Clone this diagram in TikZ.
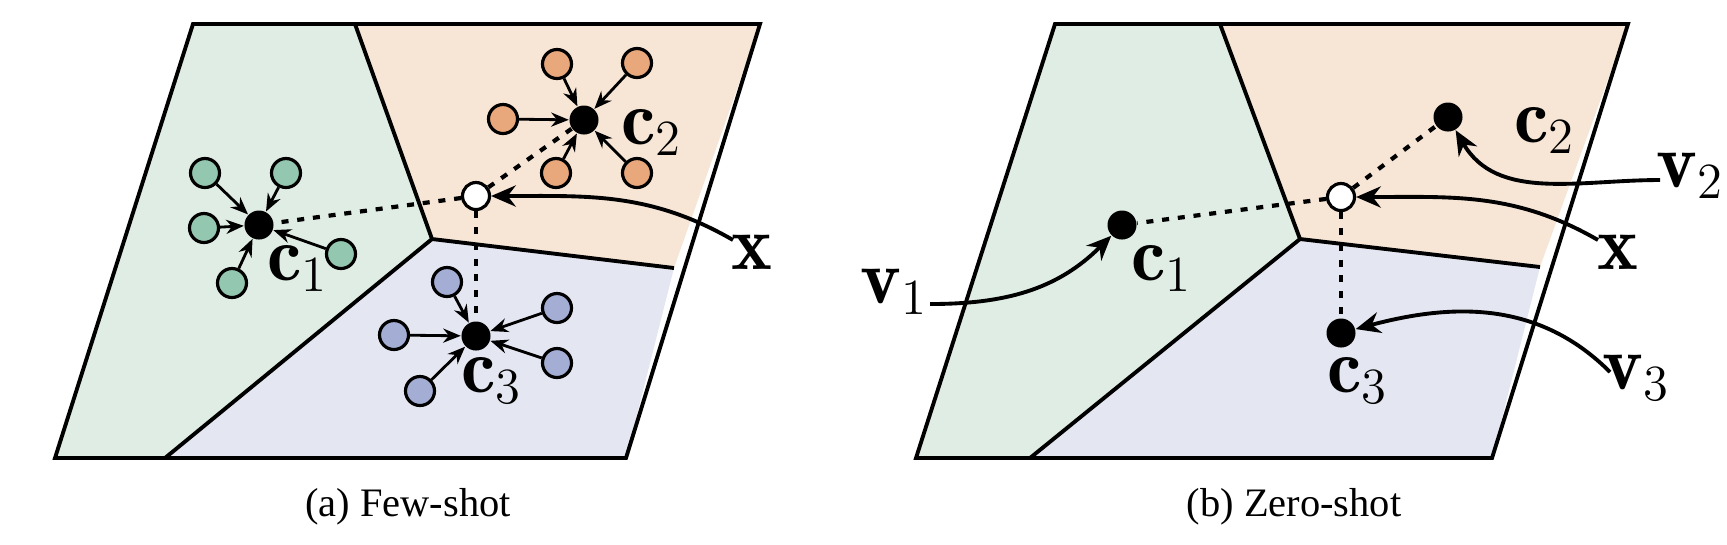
\documentclass[tikz,border=0pt]{standalone}
\usepackage{fontspec}
\newfontfamily\capfont{Liberation Serif}
\usetikzlibrary{arrows.meta}
\definecolor{gfill}{HTML}{E0EDE4}
\definecolor{ofill}{HTML}{F7E6D6}
\definecolor{bfill}{HTML}{E4E7F1}
\definecolor{gsat}{HTML}{93C7AF}
\definecolor{osat}{HTML}{E9A77C}
\definecolor{bsat}{HTML}{A4AED4}
\tikzset{
  region/.style={draw=black,line width=1.1pt,line join=miter},
  sat/.style={circle,draw=black,line width=0.9pt,minimum size=0.29cm,inner sep=0pt},
  ctr/.style={circle,fill=black,minimum size=0.29cm,inner sep=0pt},
  qry/.style={circle,draw=black,fill=white,line width=0.9pt,minimum size=0.27cm,inner sep=0pt},
  sarr/.style={-{Stealth[length=5pt,width=4pt]},line width=0.8pt},
  carr/.style={-{Stealth[length=7pt,width=6pt]},line width=1.1pt},
  dots/.style={line width=1.2pt,dash pattern=on 2pt off 2.5pt},
  lab/.style={font=\fontsize{22}{24}\selectfont,inner sep=1pt},
  captxt/.style={font=\capfont\fontsize{11.5}{13}\selectfont}
}
\begin{document}
\begin{tikzpicture}[x=0.01cm,y=-0.01cm]
\useasboundingbox (0,0) rectangle (1727,544);
% ---------- panel (a)
\fill[gfill] (193,24) -- (355,24) -- (432,239) -- (165,458) -- (55,458) -- cycle;
\fill[ofill] (355,24) -- (760,24) -- (674,268) -- (432,239) -- cycle;
\fill[bfill] (432,239) -- (674,268) -- (626,458) -- (165,458) -- cycle;
\draw[region] (193,24) -- (760,24) -- (626,458) -- (55,458) -- cycle;
\draw[region] (355,24) -- (432,239) -- (674,268);
\draw[region] (432,239) -- (165,458);
\node[ctr] (a1) at (259,225) {};
\node[ctr] (a2) at (584,120) {};
\node[ctr] (a3) at (476,336) {};
\node[qry] (ax) at (476,196) {};
\draw[dots] (ax) -- (a1); \draw[dots] (ax) -- (a2); \draw[dots] (ax) -- (a3);
\foreach \n/\p in {g1/{205,173},g2/{286,173},g3/{204,228},g4/{341,254},g5/{232,283}}
  {\node[sat,fill=gsat] (\n) at (\p) {}; \draw[sarr] (\n) -- (a1);}
\foreach \n/\p in {o1/{557,64},o2/{637,63},o3/{503,119},o4/{556,173},o5/{637,173}}
  {\node[sat,fill=osat] (\n) at (\p) {}; \draw[sarr] (\n) -- (a2);}
\foreach \n/\p in {b1/{447,282},b2/{557,308},b3/{394,335},b4/{557,363},b5/{420,391}}
  {\node[sat,fill=bsat] (\n) at (\p) {}; \draw[sarr] (\n) -- (a3);}
\node[lab] (la1) at (298,268) {$\mathbf{c}_1$};
\node[lab] (la2) at (652,132) {$\mathbf{c}_2$};
\node[lab] (la3) at (492,380) {$\mathbf{c}_3$};
\node[lab] (lax) at (752,252) {$\mathbf{x}$};
\coordinate (sax) at (733,240);
\draw[carr] (sax) to[out=150,in=0] (ax);
\node[captxt] (capa) at (408,507) {(a) Few-shot};
% ---------- panel (b)
\fill[gfill] (1055,24) -- (1220,24) -- (1300,239) -- (1030,458) -- (916,458) -- cycle;
\fill[ofill] (1220,24) -- (1628,24) -- (1540,267) -- (1300,239) -- cycle;
\fill[bfill] (1300,239) -- (1540,267) -- (1492,458) -- (1030,458) -- cycle;
\draw[region] (1055,24) -- (1628,24) -- (1492,458) -- (916,458) -- cycle;
\draw[region] (1220,24) -- (1300,239) -- (1540,267);
\draw[region] (1300,239) -- (1030,458);
\node[ctr] (b1c) at (1122,225) {};
\node[ctr] (b2c) at (1448,117) {};
\node[ctr] (b3c) at (1341,333) {};
\node[qry] (bx) at (1341,197) {};
\draw[dots] (bx) -- (b1c); \draw[dots] (bx) -- (b2c); \draw[dots] (bx) -- (b3c);
\node[lab] (lb1) at (1162,268) {$\mathbf{c}_1$};
\node[lab] (lb2) at (1545,130) {$\mathbf{c}_2$};
\node[lab] (lb3) at (1358,380) {$\mathbf{c}_3$};
\node[lab] (lbx) at (1618,252) {$\mathbf{x}$};
\node[lab] (lv1) at (894,292) {$\mathbf{v}_1$};
\node[lab] (lv2) at (1690,176) {$\mathbf{v}_2$};
\node[lab] (lv3) at (1636,378) {$\mathbf{v}_3$};
\coordinate (sbx) at (1598,240);
\coordinate (sv1) at (930,304);
\coordinate (sv2) at (1660,180);
\coordinate (sv3) at (1610,372);
\draw[carr] (sbx) to[out=150,in=0] (bx);
\draw[carr] (sv1) to[out=0,in=225] (b1c);
\draw[carr] (sv2) to[out=180,in=-60] (b2c);
\draw[carr] (sv3) to[out=135,in=15] (b3c);
\node[captxt] (capb) at (1294,507) {(b) Zero-shot};
\end{tikzpicture}
\end{document}
